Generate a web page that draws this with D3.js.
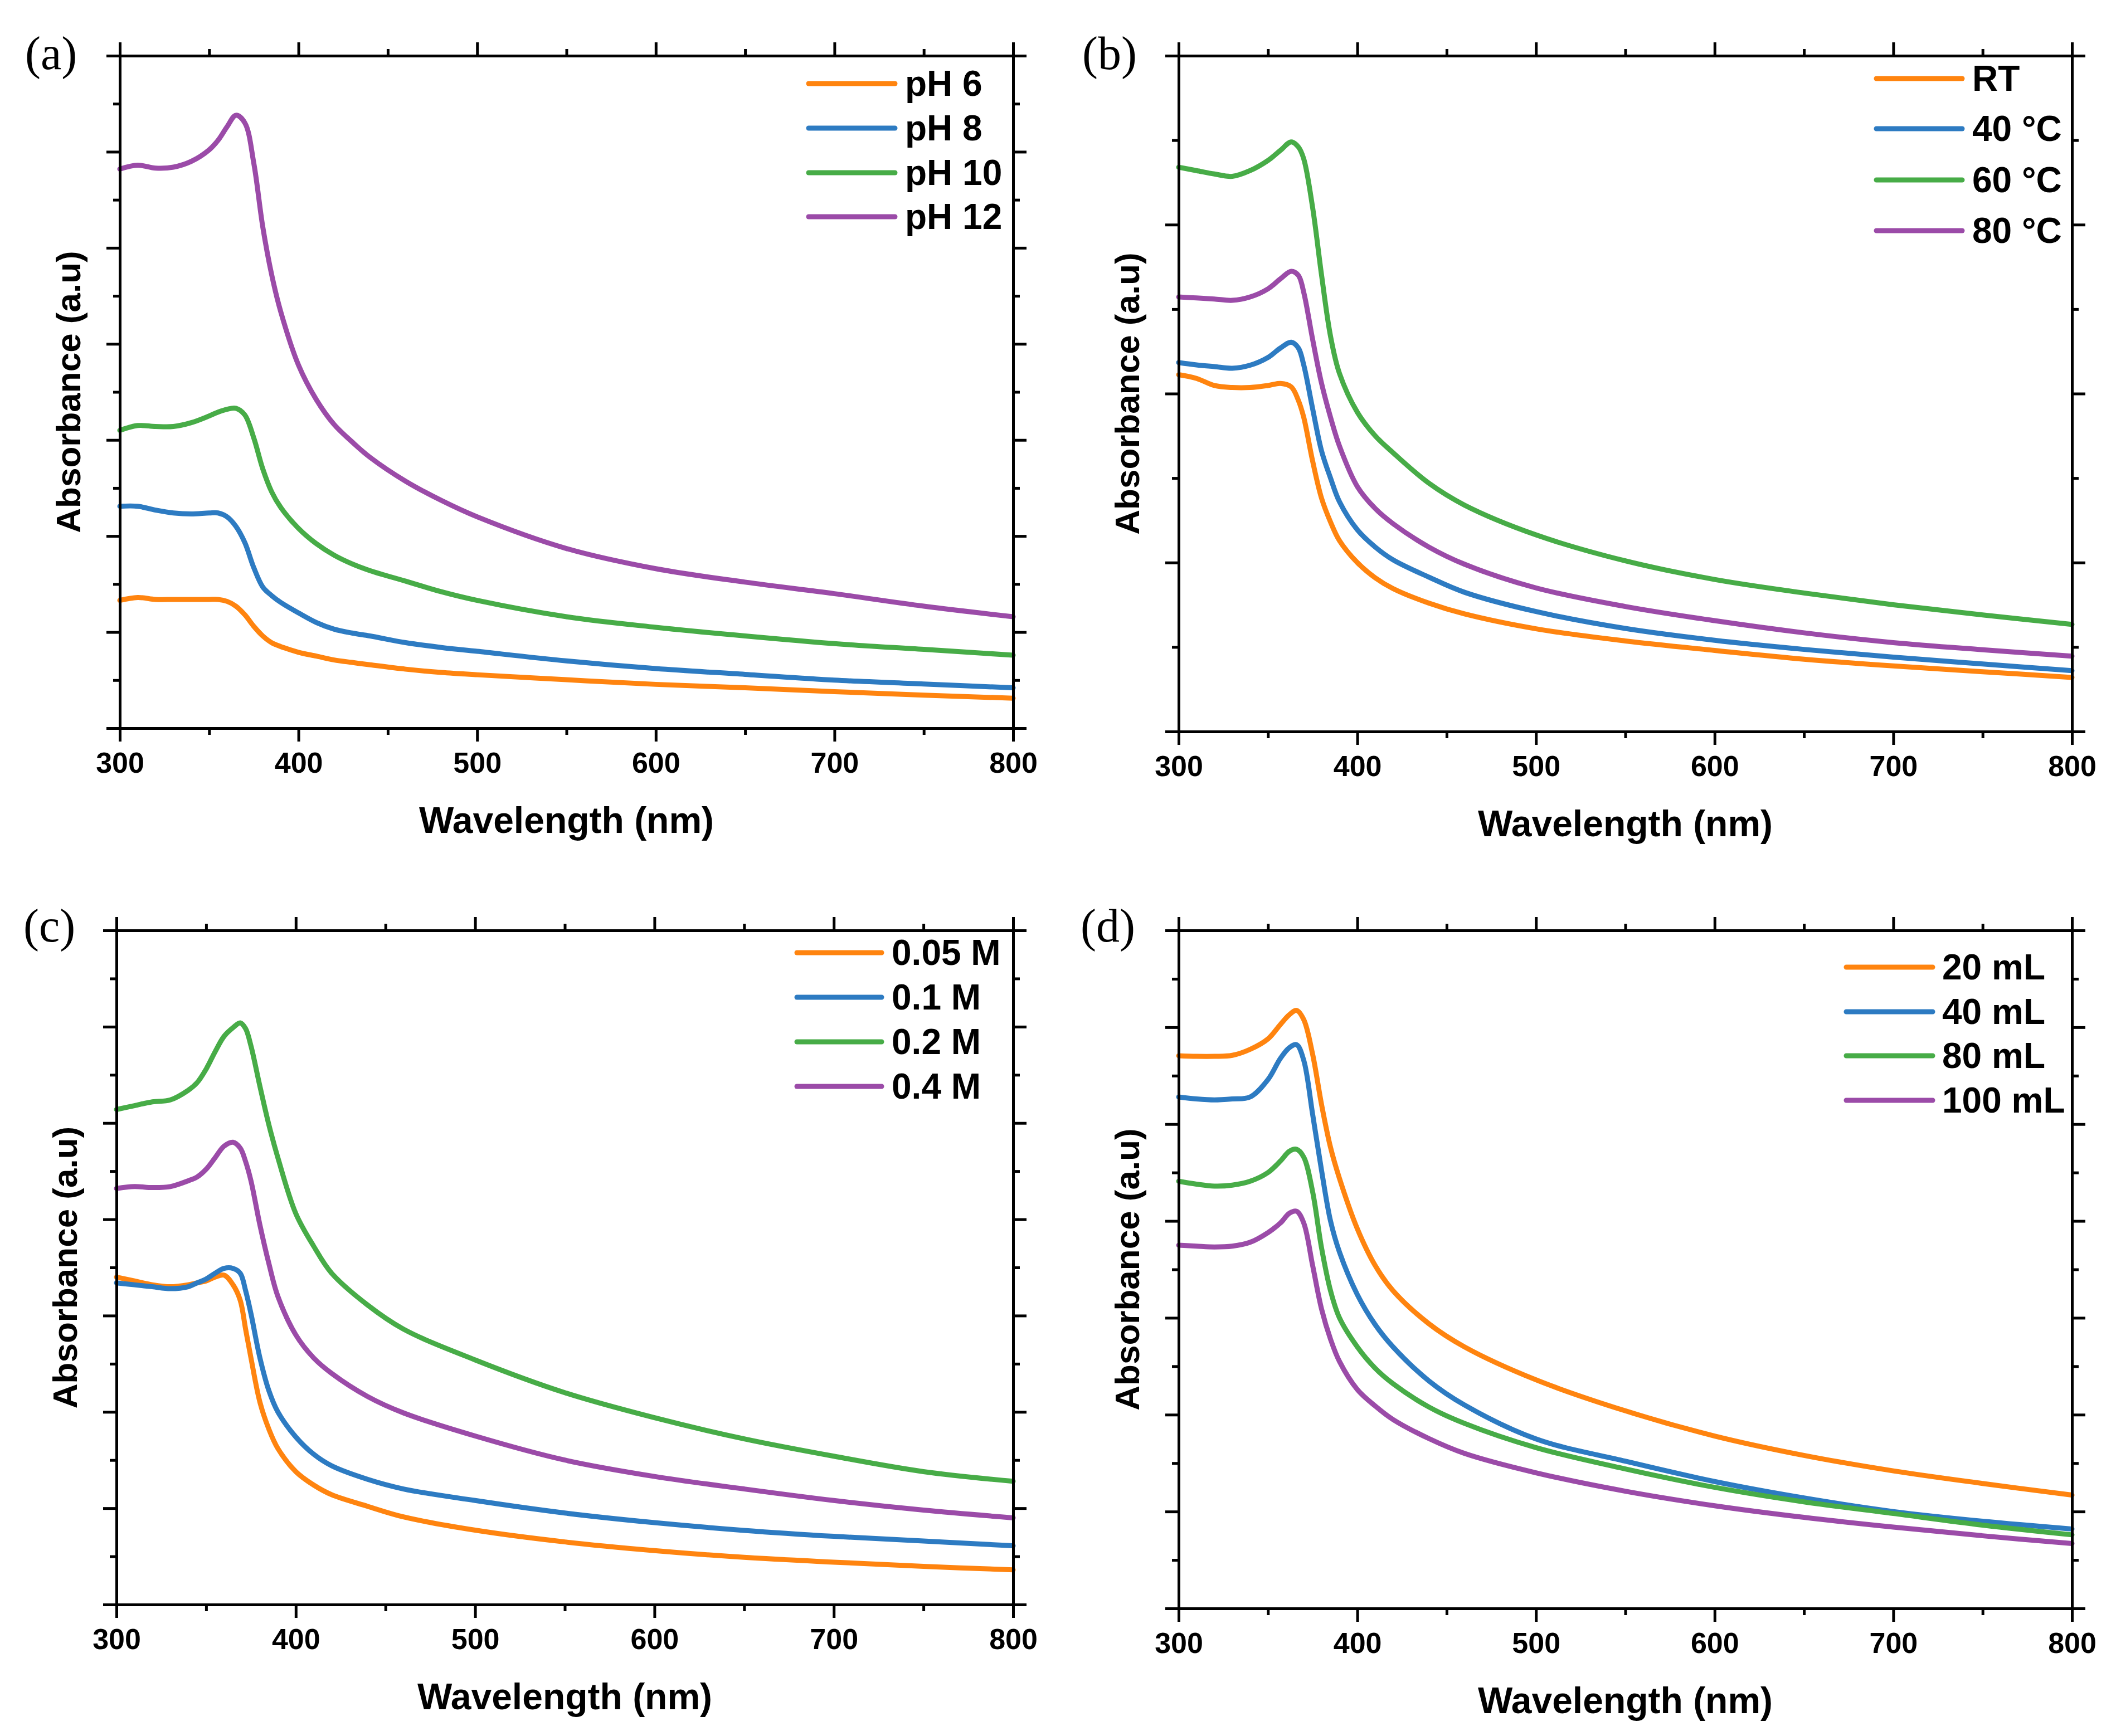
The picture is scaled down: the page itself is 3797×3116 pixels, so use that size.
<!DOCTYPE html>
<html><head><meta charset="utf-8">
<script src="https://cdn.jsdelivr.net/npm/d3@7"></script>
<style>body{margin:0;background:#fff}svg{display:block}</style>
</head><body>
<svg id="chart" width="3797" height="3116"></svg>
<script>
// ---------- DATA ----------
const xTicks = [300, 400, 500, 600, 700, 800];
const xMinor = [350, 450, 550, 650, 750];

// Panel (a) : pH
const gridA = [300,310,320,330,340,350,355,360,365,370,375,380,385,390,400,410,420,430,440,460,480,500,550,600,650,700,750,800];
const namesA = ["pH 6", "pH 8", "pH 10", "pH 12"];
const pH6  = [0.665,0.68,0.67,0.67,0.67,0.67,0.67,0.66,0.635,0.59,0.53,0.48,0.445,0.425,0.395,0.375,0.355,0.342,0.33,0.307,0.29,0.278,0.252,0.228,0.21,0.19,0.172,0.156];
const pH8  = [1.155,1.155,1.135,1.12,1.115,1.12,1.12,1.10,1.05,0.965,0.835,0.735,0.69,0.655,0.60,0.55,0.515,0.495,0.48,0.445,0.42,0.40,0.35,0.31,0.28,0.25,0.23,0.21];
const pH10 = [1.55,1.575,1.57,1.57,1.59,1.625,1.645,1.66,1.665,1.63,1.51,1.35,1.23,1.15,1.04,0.96,0.90,0.855,0.82,0.765,0.71,0.665,0.58,0.525,0.48,0.44,0.41,0.38];
const pH12 = [2.91,2.93,2.915,2.92,2.95,3.01,3.06,3.13,3.19,3.15,2.94,2.61,2.36,2.17,1.89,1.71,1.58,1.49,1.41,1.285,1.185,1.10,0.935,0.83,0.76,0.70,0.635,0.58];

// Panel (b) : temperature
const gridB = [300,310,320,330,340,350,357,363,367,370,375,380,385,390,400,410,420,440,460,500,550,600,650,700,750,800];
const namesB = ["RT", "40 °C", "60 °C", "80 °C"];
const tRT  = [1.056,1.045,1.024,1.018,1.018,1.024,1.03,1.02,0.98,0.93,0.80,0.69,0.62,0.565,0.50,0.455,0.423,0.38,0.348,0.304,0.268,0.24,0.214,0.194,0.177,0.16];
const t40  = [1.092,1.085,1.08,1.075,1.084,1.107,1.135,1.152,1.135,1.085,0.955,0.83,0.75,0.68,0.597,0.546,0.508,0.457,0.412,0.355,0.305,0.27,0.243,0.22,0.20,0.18];
const t60  = [1.67,1.66,1.65,1.643,1.66,1.69,1.72,1.745,1.73,1.695,1.55,1.35,1.17,1.06,0.945,0.875,0.825,0.735,0.67,0.582,0.505,0.45,0.41,0.375,0.345,0.317];
const t80  = [1.286,1.283,1.28,1.276,1.286,1.31,1.34,1.362,1.35,1.30,1.16,1.03,0.93,0.845,0.725,0.66,0.615,0.546,0.495,0.425,0.37,0.328,0.292,0.263,0.242,0.223];

// Panel (c) : concentration
const gridC = [300,310,320,330,340,345,350,355,360,365,369,372,375,380,385,390,400,410,420,440,460,500,550,600,650,700,750,800];
const namesC = ["0.05 M", "0.1 M", "0.2 M", "0.4 M"];
const c005 = [1.70,1.68,1.66,1.65,1.66,1.67,1.68,1.70,1.71,1.66,1.58,1.43,1.28,1.05,0.91,0.81,0.69,0.62,0.57,0.51,0.455,0.386,0.325,0.28,0.245,0.22,0.198,0.18];
const c01  = [1.67,1.66,1.65,1.64,1.65,1.67,1.69,1.72,1.745,1.745,1.72,1.63,1.51,1.28,1.11,1.00,0.87,0.78,0.72,0.65,0.60,0.54,0.475,0.425,0.385,0.354,0.33,0.305];
const c02  = [2.57,2.59,2.61,2.62,2.67,2.71,2.78,2.87,2.95,2.995,3.02,2.99,2.90,2.69,2.49,2.32,2.03,1.86,1.72,1.555,1.43,1.27,1.10,0.97,0.86,0.77,0.69,0.64];
const c04  = [2.16,2.17,2.165,2.17,2.20,2.22,2.26,2.32,2.38,2.40,2.37,2.30,2.20,1.97,1.77,1.60,1.40,1.28,1.20,1.08,0.995,0.875,0.75,0.665,0.60,0.54,0.49,0.45];

// Panel (d) : volume
const gridD = [300,310,320,330,340,350,357,362,366,370,375,380,385,390,400,410,420,440,460,500,550,600,650,700,750,800];
const namesD = ["20 mL", "40 mL", "80 mL", "100 mL"];
const v20  = [2.853,2.85,2.85,2.855,2.886,2.94,3.015,3.065,3.087,3.04,2.86,2.60,2.38,2.22,1.96,1.77,1.64,1.47,1.35,1.18,1.02,0.89,0.79,0.71,0.645,0.585];
const v40  = [2.64,2.63,2.625,2.63,2.64,2.73,2.84,2.895,2.91,2.83,2.55,2.26,2.0,1.84,1.62,1.465,1.35,1.175,1.05,0.875,0.76,0.655,0.57,0.50,0.45,0.41];
const v80  = [2.205,2.19,2.18,2.185,2.205,2.25,2.31,2.36,2.37,2.33,2.15,1.86,1.64,1.50,1.35,1.24,1.16,1.04,0.955,0.83,0.72,0.625,0.55,0.49,0.43,0.38];
const v100 = [1.875,1.87,1.866,1.87,1.89,1.94,1.99,2.04,2.05,1.99,1.77,1.545,1.39,1.275,1.13,1.045,0.975,0.877,0.80,0.70,0.605,0.53,0.47,0.42,0.375,0.335];

// ---------- STYLE / LAYOUT ----------
const colors = ["#FF840F", "#2D7BC2", "#47AC47", "#9B4BA8"];
const SANS = "'Liberation Sans', Arial, sans-serif";
const SERIF = "'Liberation Serif', 'Times New Roman', serif";

const panels = [
  {label:"(a)", lx:45, ly:124, box:{x0:215,x1:1818,y0:100,y1:1307}, ymax:3.5,
   grid:gridA, series:[pH6,pH8,pH10,pH12], names:namesA,
   leg:{x0:1451,x1:1606,tx:1624,rows:[150,230,310,389]}},
  {label:"(b)", lx:1942, ly:124, box:{x0:2115,x1:3718,y0:100,y1:1313}, ymax:2.0,
   grid:gridB, series:[tRT,t40,t60,t80], names:namesB,
   leg:{x0:3367,x1:3521,tx:3539,rows:[141,231,323,414]}},
  {label:"(c)", lx:42, ly:1690, box:{x0:209,x1:1818,y0:1670,y1:2880}, ymax:3.5,
   grid:gridC, series:[c005,c01,c02,c04], names:namesC,
   leg:{x0:1430,x1:1582,tx:1600,rows:[1710,1790,1870,1950]}},
  {label:"(d)", lx:1939, ly:1690, box:{x0:2115,x1:3718,y0:1670,y1:2887}, ymax:3.5,
   grid:gridD, series:[v20,v40,v80,v100], names:namesD,
   leg:{x0:3313,x1:3468,tx:3485,rows:[1736,1816,1895,1975]}}
];

const svg = d3.select("#chart");
svg.append("rect").attr("width",3797).attr("height",3116).attr("fill","#fff");

function styleAxis(g){
  g.selectAll(".domain").attr("stroke","#000").attr("stroke-width",5).attr("stroke-linecap","square");
  g.selectAll(".tick line").attr("stroke","#000").attr("stroke-width",5);
  g.selectAll("text").attr("fill","#000").attr("font-family",SANS).attr("font-weight","bold").attr("font-size",52);
}

panels.forEach(p => {
  const b = p.box;
  const x = d3.scaleLinear().domain([300,800]).range([b.x0,b.x1]);
  const y = d3.scaleLinear().domain([0,p.ymax]).range([b.y1,b.y0]);
  const yMajor = d3.range(0, p.ymax + 1e-9, 0.5);
  const yMinor = d3.range(0.25, p.ymax, 0.5);
  const g = svg.append("g");

  // data lines
  const line = d3.line().x(d => x(d[0])).y(d => y(d[1])).curve(d3.curveCatmullRom.alpha(0.5));
  p.series.forEach((s,i) => {
    g.append("path").datum(p.grid.map((w,k) => [w, s[k]]))
      .attr("d", line).attr("fill","none").attr("stroke",colors[i])
      .attr("stroke-width",9).attr("stroke-linejoin","round").attr("stroke-linecap","round");
  });

  // axes (ticks outward on all sides)
  const mk = (axis, scale, vals, size, fmt) => axis(scale).tickValues(vals).tickSize(size).tickSizeOuter(0).tickFormat(fmt);
  const none = () => "";
  g.append("g").attr("transform",`translate(0,${b.y1})`)
    .call(mk(d3.axisBottom, x, xTicks, 24, d3.format("d")).tickPadding(19)).call(styleAxis);
  g.append("g").attr("transform",`translate(0,${b.y1})`)
    .call(mk(d3.axisBottom, x, xMinor, 12, none)).call(styleAxis);
  g.append("g").attr("transform",`translate(0,${b.y0})`)
    .call(mk(d3.axisTop, x, xTicks, 24, none)).call(styleAxis);
  g.append("g").attr("transform",`translate(0,${b.y0})`)
    .call(mk(d3.axisTop, x, xMinor, 12, none)).call(styleAxis);
  g.append("g").attr("transform",`translate(${b.x0},0)`)
    .call(mk(d3.axisLeft, y, yMajor, 24, none)).call(styleAxis);
  g.append("g").attr("transform",`translate(${b.x0},0)`)
    .call(mk(d3.axisLeft, y, yMinor, 12, none)).call(styleAxis);
  g.append("g").attr("transform",`translate(${b.x1},0)`)
    .call(mk(d3.axisRight, y, yMajor, 24, none)).call(styleAxis);
  g.append("g").attr("transform",`translate(${b.x1},0)`)
    .call(mk(d3.axisRight, y, yMinor, 12, none)).call(styleAxis);

  // axis titles
  g.append("text").attr("x",(b.x0+b.x1)/2).attr("y",b.y1+188)
    .attr("text-anchor","middle").attr("font-family",SANS).attr("font-weight","bold")
    .attr("font-size",66).text("Wavelength (nm)");
  const cy = (b.y0+b.y1)/2, cx = b.x0 - 93;
  g.append("text").attr("transform",`translate(${cx + 22},${cy}) rotate(-90)`)
    .attr("text-anchor","middle").attr("font-family",SANS).attr("font-weight","bold")
    .attr("font-size",62).text("Absorbance (a.u)");

  // panel label
  g.append("text").attr("x",p.lx).attr("y",p.ly).attr("font-family",SERIF)
    .attr("font-size",84).text(p.label);

  // legend
  p.names.forEach((n,i) => {
    const ry = p.leg.rows[i];
    g.append("line").attr("x1",p.leg.x0).attr("x2",p.leg.x1).attr("y1",ry).attr("y2",ry)
      .attr("stroke",colors[i]).attr("stroke-width",9).attr("stroke-linecap","round");
    g.append("text").attr("x",p.leg.tx).attr("y",ry+22).attr("font-family",SANS)
      .attr("font-weight","bold").attr("font-size",64).text(n);
  });
});
</script>
</body></html>
